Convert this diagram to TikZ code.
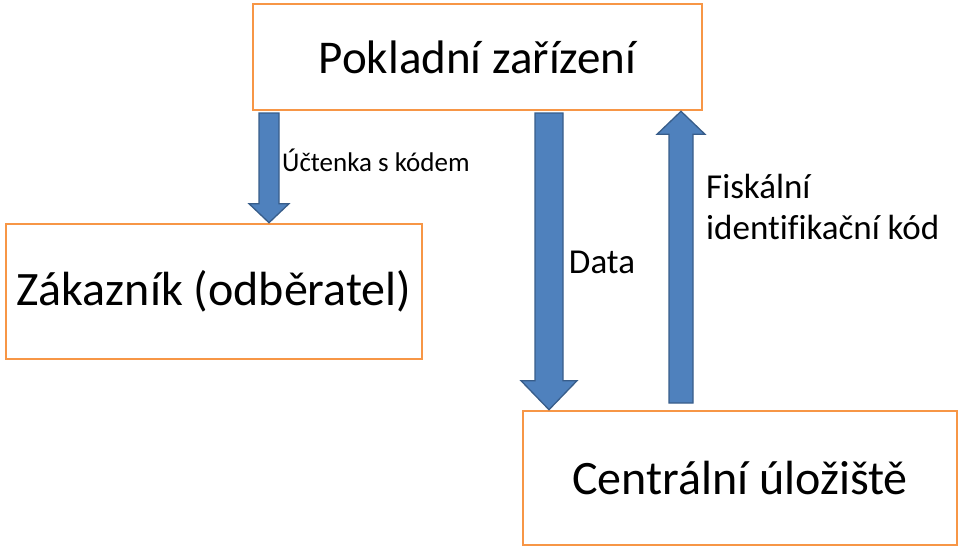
\documentclass[tikz,border=0pt]{standalone}
\usepackage{fontspec}
\setmainfont{Carlito}
\newfontfamily\nolig[Ligatures=NoCommon]{Carlito}
\usetikzlibrary{calc}
\definecolor{boxorange}{HTML}{F79646}
\definecolor{arrfill}{HTML}{4F81BD}
\definecolor{arrline}{HTML}{385D8A}
\newcommand{\vblock}[5]{\path[blockarr] let \p1=(#1), \p2=(#2), \n1={sign(\y2-\y1)} in (\x1-#3,\y1) -- (\x1+#3,\y1) -- (\x1+#3,\y2-\n1*#5) -- (\x1+#4,\y2-\n1*#5) -- (\x2,\y2) -- (\x1-#4,\y2-\n1*#5) -- (\x1-#3,\y2-\n1*#5) -- cycle;}

\begin{document}
\begin{tikzpicture}[x=1pt,y=-1pt,
  unit/.style={draw=boxorange, line width=2.6pt, fill=white, inner sep=0pt},
  blockarr/.style={fill=arrfill, draw=arrline, line width=1.3pt, line join=miter}]
\useasboundingbox (0,0) rectangle (960,552);
\node[unit, minimum width=449pt, minimum height=106pt, font=\fontsize{47}{56}\selectfont] (pos) at (477.5,57) {Pokladní zařízení};
\node[unit, minimum width=416pt, minimum height=135pt, font=\fontsize{48}{58}\selectfont] (cust) at (214,291.5) {Zákazník (odběratel)};
\node[unit, minimum width=434pt, minimum height=134pt, font=\fontsize{48}{58}\selectfont] (store) at (740,478) {Centrální úložiště};
\coordinate (rcpt) at (269,113);
\coordinate (data) at (549,113);
\coordinate (fik) at (681,403);
\vblock{rcpt}{cust.north -| rcpt}{10pt}{20pt}{19pt}
\vblock{data}{store.north -| data}{14pt}{28pt}{29pt}
\vblock{fik}{pos.south -| fik}{12pt}{24pt}{23pt}
\node[anchor=west, inner sep=0pt, font=\fontsize{27}{32}\selectfont] (rcptlbl) at (282,160) {Účtenka s kódem};
\node[inner sep=0pt, font=\fontsize{35}{42}\selectfont] (datalbl) at (602,262) {Data};
\node[anchor=north west, inner sep=0pt, align=left, font=\nolig\fontsize{35}{41}\selectfont] (fiklbl) at (706,174) {Fiskální\\identifikační kód};
\end{tikzpicture}
\end{document}
